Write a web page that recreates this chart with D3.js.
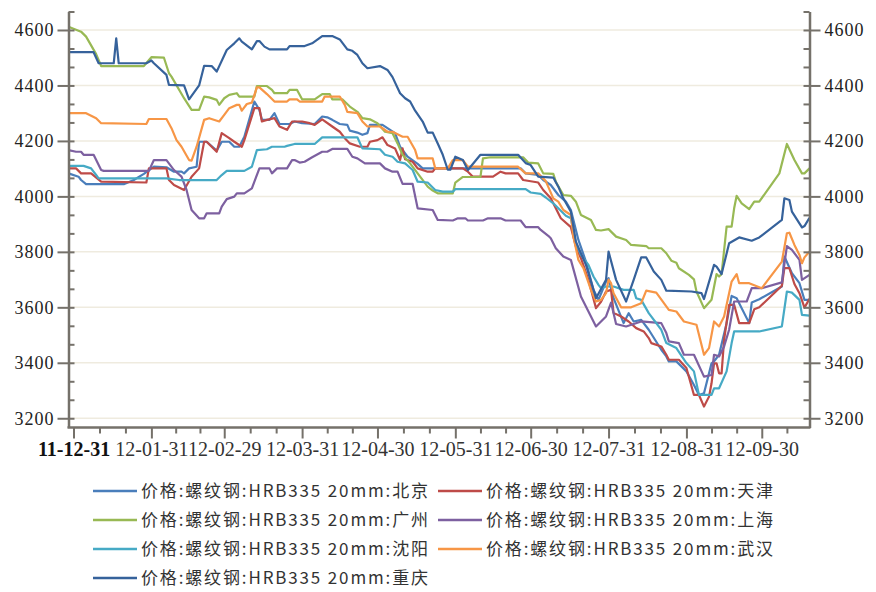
<!DOCTYPE html>
<html>
<head>
<meta charset="utf-8">
<script src="https://cdn.jsdelivr.net/npm/d3@7"></script>
<style>
  body { margin: 0; background: #fff; }
  svg { display: block; }
  .tick text { font-family: "Liberation Serif", "DejaVu Serif", serif; }
</style>
</head>
<body>
<div id="chart"></div>
<script>
// series names (legend order)
const names = [
  "价格:螺纹钢:HRB335 20mm:北京",
  "价格:螺纹钢:HRB335 20mm:天津",
  "价格:螺纹钢:HRB335 20mm:广州",
  "价格:螺纹钢:HRB335 20mm:上海",
  "价格:螺纹钢:HRB335 20mm:沈阳",
  "价格:螺纹钢:HRB335 20mm:武汉",
  "价格:螺纹钢:HRB335 20mm:重庆"
];

const majorTicks = ["2011-12-31", "2012-01-31", "2012-02-29", "2012-03-31", "2012-04-30",
  "2012-05-31", "2012-06-30", "2012-07-31", "2012-08-31", "2012-09-30"];
const yTicks = [3200, 3400, 3600, 3800, 4000, 4200, 4400, 4600];

const beijing = [["2011-12-29",4083],["2012-01-02",4071],["2012-01-03",4059],["2012-01-05",4044],["2012-01-20",4044],["2012-01-24",4059],["2012-01-28",4081],["2012-02-01",4107],["2012-02-06",4105],["2012-02-09",4089],["2012-02-12",4089],["2012-02-13",4083],["2012-02-15",4101],["2012-02-18",4107],["2012-02-19",4197],["2012-02-22",4197],["2012-02-26",4165],["2012-02-28",4197],["2012-03-02",4197],["2012-03-04",4179],["2012-03-06",4179],["2012-03-08",4215],["2012-03-12",4342],["2012-03-14",4312],["2012-03-15",4276],["2012-03-18",4276],["2012-03-20",4300],["2012-03-22",4261],["2012-03-26",4261],["2012-03-28",4270],["2012-03-31",4264],["2012-04-05",4261],["2012-04-08",4288],["2012-04-10",4285],["2012-04-12",4276],["2012-04-15",4261],["2012-04-18",4258],["2012-04-19",4237],["2012-04-22",4230],["2012-04-24",4222],["2012-04-26",4228],["2012-04-27",4258],["2012-05-02",4258],["2012-05-07",4228],["2012-05-09",4179],["2012-05-12",4143],["2012-05-16",4117],["2012-05-18",4101],["2012-06-26",4101],["2012-06-28",4083],["2012-07-03",4077],["2012-07-05",4059],["2012-07-08",4041],["2012-07-11",4005],["2012-07-14",3981],["2012-07-16",3951],["2012-07-19",3843],["2012-07-22",3765],["2012-07-25",3663],["2012-07-27",3627],["2012-07-30",3693],["2012-07-31",3705],["2012-08-02",3633],["2012-08-06",3543],["2012-08-08",3579],["2012-08-10",3549],["2012-08-13",3555],["2012-08-16",3519],["2012-08-21",3447],["2012-08-23",3423],["2012-08-24",3405],["2012-08-27",3405],["2012-08-31",3369],["2012-09-03",3320],["2012-09-05",3284],["2012-09-07",3290],["2012-09-10",3398],["2012-09-11",3405],["2012-09-13",3429],["2012-09-16",3543],["2012-09-18",3641],["2012-09-20",3633],["2012-09-25",3543],["2012-09-26",3617],["2012-09-29",3629],["2012-10-08",3675],["2012-10-09",3783],["2012-10-12",3723],["2012-10-15",3687],["2012-10-17",3627],["2012-10-19",3627]];

const tianjin = [["2011-12-29",4101],["2012-01-01",4101],["2012-01-03",4083],["2012-01-07",4083],["2012-01-11",4053],["2012-01-29",4050],["2012-01-30",4101],["2012-02-06",4101],["2012-02-07",4059],["2012-02-09",4041],["2012-02-13",4023],["2012-02-16",4071],["2012-02-19",4101],["2012-02-21",4197],["2012-02-22",4197],["2012-02-26",4161],["2012-02-28",4228],["2012-03-02",4210],["2012-03-04",4197],["2012-03-07",4179],["2012-03-08",4203],["2012-03-12",4318],["2012-03-14",4318],["2012-03-15",4270],["2012-03-17",4276],["2012-03-20",4282],["2012-03-22",4252],["2012-03-25",4240],["2012-03-27",4270],["2012-03-31",4270],["2012-04-03",4264],["2012-04-05",4258],["2012-04-08",4278],["2012-04-12",4252],["2012-04-15",4233],["2012-04-17",4210],["2012-04-19",4191],["2012-04-23",4179],["2012-04-26",4179],["2012-04-27",4197],["2012-04-30",4203],["2012-05-02",4213],["2012-05-04",4185],["2012-05-07",4173],["2012-05-09",4131],["2012-05-10",4173],["2012-05-11",4134],["2012-05-14",4125],["2012-05-16",4101],["2012-05-20",4089],["2012-05-22",4089],["2012-05-23",4101],["2012-06-03",4101],["2012-06-05",4089],["2012-06-07",4071],["2012-06-15",4071],["2012-06-18",4089],["2012-06-20",4083],["2012-06-25",4083],["2012-06-27",4059],["2012-07-03",4050],["2012-07-05",4023],["2012-07-08",3993],["2012-07-10",3957],["2012-07-12",3921],["2012-07-16",3889],["2012-07-18",3819],["2012-07-20",3777],["2012-07-23",3699],["2012-07-26",3597],["2012-07-28",3620],["2012-07-30",3657],["2012-08-01",3663],["2012-08-02",3580],["2012-08-05",3567],["2012-08-08",3549],["2012-08-11",3525],["2012-08-14",3513],["2012-08-16",3489],["2012-08-17",3471],["2012-08-21",3459],["2012-08-23",3429],["2012-08-24",3411],["2012-08-28",3411],["2012-08-31",3381],["2012-09-03",3284],["2012-09-05",3284],["2012-09-07",3242],["2012-09-09",3278],["2012-09-10",3326],["2012-09-11",3398],["2012-09-12",3398],["2012-09-13",3362],["2012-09-14",3362],["2012-09-15",3483],["2012-09-17",3609],["2012-09-19",3609],["2012-09-21",3543],["2012-09-25",3543],["2012-09-27",3593],["2012-09-29",3600],["2012-10-08",3678],["2012-10-09",3741],["2012-10-11",3741],["2012-10-13",3684],["2012-10-15",3651],["2012-10-17",3599],["2012-10-19",3631]];

const guangzhou = [["2011-12-29",4612],["2012-01-03",4594],["2012-01-05",4576],["2012-01-09",4513],["2012-01-11",4470],["2012-01-28",4470],["2012-01-31",4502],["2012-02-05",4500],["2012-02-07",4444],["2012-02-08",4432],["2012-02-13",4354],["2012-02-16",4312],["2012-02-19",4312],["2012-02-21",4360],["2012-02-23",4357],["2012-02-26",4348],["2012-02-27",4330],["2012-02-29",4354],["2012-03-02",4366],["2012-03-05",4372],["2012-03-06",4360],["2012-03-12",4360],["2012-03-13",4398],["2012-03-17",4398],["2012-03-19",4384],["2012-03-20",4372],["2012-03-25",4372],["2012-03-26",4384],["2012-03-29",4384],["2012-03-31",4350],["2012-04-05",4350],["2012-04-08",4369],["2012-04-11",4369],["2012-04-12",4350],["2012-04-16",4350],["2012-04-19",4324],["2012-04-22",4305],["2012-04-24",4282],["2012-04-27",4278],["2012-04-30",4264],["2012-05-03",4233],["2012-05-06",4228],["2012-05-08",4191],["2012-05-10",4150],["2012-05-13",4119],["2012-05-16",4083],["2012-05-20",4035],["2012-05-22",4021],["2012-05-24",4011],["2012-05-30",4011],["2012-05-31",4050],["2012-06-03",4070],["2012-06-10",4070],["2012-06-11",4137],["2012-06-14",4141],["2012-06-27",4141],["2012-06-29",4122],["2012-07-03",4119],["2012-07-05",4083],["2012-07-09",4081],["2012-07-10",4053],["2012-07-13",4005],["2012-07-16",4002],["2012-07-18",3981],["2012-07-20",3933],["2012-07-24",3915],["2012-07-26",3879],["2012-07-28",3877],["2012-07-31",3882],["2012-08-03",3855],["2012-08-07",3843],["2012-08-09",3825],["2012-08-15",3821],["2012-08-16",3813],["2012-08-21",3813],["2012-08-23",3795],["2012-08-25",3768],["2012-08-27",3761],["2012-08-28",3741],["2012-09-01",3717],["2012-09-03",3701],["2012-09-04",3657],["2012-09-07",3597],["2012-09-10",3627],["2012-09-12",3720],["2012-09-13",3711],["2012-09-14",3720],["2012-09-16",3891],["2012-09-18",3891],["2012-09-19",3957],["2012-09-20",4002],["2012-09-22",3975],["2012-09-25",3954],["2012-09-27",3981],["2012-09-29",3981],["2012-10-07",4083],["2012-10-10",4189],["2012-10-13",4131],["2012-10-16",4083],["2012-10-17",4083],["2012-10-19",4101]];

const shanghai = [["2011-12-29",4167],["2012-01-01",4161],["2012-01-03",4161],["2012-01-04",4150],["2012-01-08",4150],["2012-01-11",4095],["2012-01-12",4092],["2012-01-30",4092],["2012-02-01",4131],["2012-02-06",4131],["2012-02-09",4095],["2012-02-12",4071],["2012-02-14",4023],["2012-02-16",3951],["2012-02-19",3921],["2012-02-21",3921],["2012-02-22",3939],["2012-02-27",3939],["2012-02-28",3963],["2012-03-01",3990],["2012-03-04",3999],["2012-03-05",4011],["2012-03-08",4011],["2012-03-11",4029],["2012-03-14",4101],["2012-03-18",4101],["2012-03-19",4083],["2012-03-21",4101],["2012-03-25",4101],["2012-03-27",4131],["2012-03-28",4131],["2012-03-30",4122],["2012-04-01",4125],["2012-04-04",4141],["2012-04-08",4161],["2012-04-10",4161],["2012-04-12",4171],["2012-04-18",4171],["2012-04-20",4143],["2012-04-22",4137],["2012-04-25",4119],["2012-05-01",4119],["2012-05-03",4101],["2012-05-06",4089],["2012-05-08",4089],["2012-05-10",4045],["2012-05-14",4045],["2012-05-16",3957],["2012-05-22",3951],["2012-05-24",3915],["2012-05-30",3913],["2012-06-01",3921],["2012-06-04",3921],["2012-06-05",3913],["2012-06-11",3913],["2012-06-13",3921],["2012-06-18",3921],["2012-06-20",3913],["2012-06-26",3913],["2012-06-28",3889],["2012-07-03",3889],["2012-07-04",3879],["2012-07-07",3858],["2012-07-08",3849],["2012-07-10",3813],["2012-07-13",3783],["2012-07-16",3771],["2012-07-20",3639],["2012-07-21",3621],["2012-07-24",3567],["2012-07-26",3531],["2012-07-30",3567],["2012-08-01",3617],["2012-08-03",3540],["2012-08-07",3531],["2012-08-13",3549],["2012-08-21",3543],["2012-08-23",3507],["2012-08-24",3477],["2012-08-28",3471],["2012-08-30",3429],["2012-09-03",3429],["2012-09-07",3350],["2012-09-10",3356],["2012-09-11",3429],["2012-09-13",3423],["2012-09-15",3459],["2012-09-17",3519],["2012-09-19",3621],["2012-09-24",3621],["2012-09-26",3669],["2012-09-30",3669],["2012-10-08",3690],["2012-10-10",3821],["2012-10-12",3807],["2012-10-15",3771],["2012-10-16",3699],["2012-10-19",3717]];

const shenyang = [["2011-12-29",4110],["2012-01-04",4110],["2012-01-07",4101],["2012-01-09",4077],["2012-01-10",4065],["2012-02-06",4065],["2012-02-11",4059],["2012-02-26",4059],["2012-02-28",4077],["2012-03-01",4092],["2012-03-08",4092],["2012-03-11",4107],["2012-03-13",4167],["2012-03-17",4170],["2012-03-19",4179],["2012-03-24",4179],["2012-03-25",4182],["2012-03-28",4189],["2012-04-05",4189],["2012-04-08",4213],["2012-04-22",4213],["2012-04-24",4173],["2012-05-01",4170],["2012-05-03",4150],["2012-05-06",4143],["2012-05-08",4125],["2012-05-11",4119],["2012-05-14",4095],["2012-05-16",4053],["2012-05-20",4050],["2012-05-23",4023],["2012-05-26",4017],["2012-05-30",4017],["2012-05-31",4026],["2012-06-28",4026],["2012-06-30",4014],["2012-07-04",4009],["2012-07-06",3996],["2012-07-09",3975],["2012-07-11",3957],["2012-07-14",3930],["2012-07-16",3921],["2012-07-18",3831],["2012-07-20",3789],["2012-07-23",3753],["2012-07-25",3711],["2012-07-27",3681],["2012-07-28",3669],["2012-07-30",3675],["2012-08-02",3675],["2012-08-06",3663],["2012-08-10",3663],["2012-08-11",3633],["2012-08-13",3627],["2012-08-16",3579],["2012-08-21",3519],["2012-08-23",3471],["2012-08-27",3453],["2012-08-31",3399],["2012-09-03",3369],["2012-09-05",3284],["2012-09-10",3284],["2012-09-11",3308],["2012-09-13",3308],["2012-09-16",3369],["2012-09-18",3471],["2012-09-19",3513],["2012-09-29",3513],["2012-10-08",3531],["2012-10-10",3657],["2012-10-12",3653],["2012-10-15",3627],["2012-10-16",3573],["2012-10-19",3570]];

const wuhan = [["2011-12-29",4300],["2012-01-05",4300],["2012-01-09",4282],["2012-01-11",4264],["2012-01-29",4261],["2012-01-30",4279],["2012-02-06",4279],["2012-02-08",4246],["2012-02-10",4203],["2012-02-12",4179],["2012-02-15",4131],["2012-02-16",4129],["2012-02-18",4179],["2012-02-21",4276],["2012-02-23",4282],["2012-02-27",4270],["2012-02-29",4294],["2012-03-02",4318],["2012-03-05",4330],["2012-03-06",4330],["2012-03-07",4309],["2012-03-09",4333],["2012-03-11",4338],["2012-03-13",4393],["2012-03-14",4393],["2012-03-17",4369],["2012-03-20",4342],["2012-03-25",4342],["2012-03-26",4350],["2012-03-29",4350],["2012-03-30",4342],["2012-04-08",4342],["2012-04-09",4360],["2012-04-15",4360],["2012-04-17",4330],["2012-04-18",4305],["2012-04-22",4300],["2012-04-24",4270],["2012-04-26",4252],["2012-05-01",4252],["2012-05-04",4233],["2012-05-06",4233],["2012-05-10",4215],["2012-05-12",4215],["2012-05-15",4167],["2012-05-16",4137],["2012-05-22",4137],["2012-05-23",4101],["2012-05-28",4101],["2012-05-30",4131],["2012-06-03",4131],["2012-06-05",4107],["2012-06-25",4107],["2012-06-28",4083],["2012-07-03",4083],["2012-07-06",4055],["2012-07-09",3993],["2012-07-11",3981],["2012-07-13",3951],["2012-07-16",3933],["2012-07-17",3855],["2012-07-19",3771],["2012-07-21",3741],["2012-07-24",3663],["2012-07-26",3621],["2012-07-28",3627],["2012-07-30",3651],["2012-07-31",3700],["2012-08-01",3687],["2012-08-02",3651],["2012-08-05",3600],["2012-08-09",3600],["2012-08-13",3615],["2012-08-15",3660],["2012-08-19",3653],["2012-08-24",3591],["2012-08-27",3585],["2012-08-30",3549],["2012-09-04",3537],["2012-09-07",3429],["2012-09-09",3453],["2012-09-11",3549],["2012-09-13",3531],["2012-09-15",3567],["2012-09-18",3693],["2012-09-20",3720],["2012-09-21",3687],["2012-09-25",3687],["2012-09-30",3669],["2012-10-08",3765],["2012-10-10",3867],["2012-10-11",3869],["2012-10-13",3825],["2012-10-15",3789],["2012-10-16",3759],["2012-10-17",3780],["2012-10-19",3801]];

const chongqing = [["2011-12-29",4520],["2012-01-08",4520],["2012-01-10",4480],["2012-01-16",4480],["2012-01-17",4570],["2012-01-18",4480],["2012-01-29",4480],["2012-01-31",4490],["2012-02-01",4480],["2012-02-06",4438],["2012-02-07",4402],["2012-02-13",4400],["2012-02-15",4350],["2012-02-19",4400],["2012-02-21",4471],["2012-02-24",4470],["2012-02-26",4450],["2012-03-01",4528],["2012-03-04",4552],["2012-03-06",4570],["2012-03-07",4558],["2012-03-11",4530],["2012-03-13",4560],["2012-03-14",4560],["2012-03-16",4540],["2012-03-18",4530],["2012-03-25",4530],["2012-03-26",4542],["2012-04-01",4542],["2012-04-04",4552],["2012-04-08",4578],["2012-04-12",4578],["2012-04-15",4566],["2012-04-18",4530],["2012-04-20",4525],["2012-04-22",4510],["2012-04-24",4480],["2012-04-26",4462],["2012-05-01",4470],["2012-05-04",4456],["2012-05-06",4430],["2012-05-09",4372],["2012-05-11",4354],["2012-05-13",4342],["2012-05-15",4309],["2012-05-18",4270],["2012-05-20",4230],["2012-05-22",4230],["2012-05-24",4191],["2012-05-26",4150],["2012-05-28",4096],["2012-05-29",4096],["2012-05-31",4143],["2012-06-03",4131],["2012-06-05",4095],["2012-06-10",4150],["2012-06-25",4150],["2012-06-28",4120],["2012-06-30",4113],["2012-07-03",4071],["2012-07-09",4068],["2012-07-11",4035],["2012-07-13",3993],["2012-07-16",3945],["2012-07-18",3837],["2012-07-22",3753],["2012-07-26",3633],["2012-07-30",3699],["2012-07-31",3801],["2012-08-03",3699],["2012-08-07",3621],["2012-08-10",3699],["2012-08-13",3780],["2012-08-15",3780],["2012-08-18",3729],["2012-08-21",3699],["2012-08-23",3660],["2012-09-02",3657],["2012-09-06",3651],["2012-09-07",3630],["2012-09-11",3753],["2012-09-12",3747],["2012-09-14",3720],["2012-09-17",3831],["2012-09-21",3852],["2012-09-26",3840],["2012-09-29",3852],["2012-10-08",3915],["2012-10-09",3993],["2012-10-11",3987],["2012-10-12",3945],["2012-10-16",3888],["2012-10-17",3893],["2012-10-19",3923]];

const seriesValues = [beijing, tianjin, guangzhou, shanghai, shenyang, wuhan, chongqing];
const colors = ["#4a7ebb", "#be4b48", "#98b954", "#7d60a0", "#46aac5", "#f79646", "#36629b"];

const width = 876;
const height = 592;
const plot = { left: 68.5, right: 809.5, top: 11.5, bottom: 427.5 };
const axisColor = "#75716a";
const tickFont = "Liberation Serif, DejaVu Serif, serif";

const parse = d3.timeParse("%Y-%m-%d");

const svg = d3.select("#chart").append("svg")
  .attr("width", width)
  .attr("height", height)
  .style("background", "#fff");

const x = d3.scaleTime()
  .domain([parse("2011-12-29"), parse("2012-10-19")])
  .range([plot.left, plot.right]);

const y = d3.scaleLinear()
  .domain([3200 - 200 / 6, 4600 + 200 / 3])
  .range([plot.bottom, plot.top]);

// gridlines
svg.append("g")
  .selectAll("line")
  .data(yTicks)
  .join("line")
  .attr("x1", plot.left + 1)
  .attr("x2", plot.right - 1)
  .attr("y1", (d) => y(d))
  .attr("y2", (d) => y(d))
  .attr("stroke", "#efebdf")
  .attr("stroke-width", 1.5);

// series lines
const line = d3.line()
  .x((d) => x(parse(d[0])))
  .y((d) => y(d[1]));

svg.append("g")
  .selectAll("path")
  .data(seriesValues)
  .join("path")
  .attr("d", line)
  .attr("fill", "none")
  .attr("stroke", (d, i) => colors[i])
  .attr("stroke-width", 2.2)
  .attr("stroke-linejoin", "round");

// minor y ticks every 200/3
const minorY = d3.range(0, 23).map((k) => 3200 + (k * 200) / 3);

function styleAxis(g) {
  g.attr("font-family", tickFont);
  g.select(".domain").attr("stroke", axisColor).attr("stroke-width", 2.5);
  g.selectAll(".tick line").attr("stroke", axisColor).attr("stroke-width", 2);
  g.selectAll(".tick text").attr("fill", "#222").attr("font-family", tickFont);
}

// left axis
svg.append("g")
  .attr("transform", `translate(${plot.left},0)`)
  .call(d3.axisRight(y).tickValues(minorY).tickSize(6).tickSizeOuter(0).tickFormat(""))
  .call(styleAxis);
svg.append("g")
  .attr("transform", `translate(${plot.left},0)`)
  .call(d3.axisLeft(y).tickValues(yTicks).tickSize(11).tickSizeOuter(0).tickPadding(3).tickFormat(d3.format("d")))
  .call(styleAxis)
  .call((g) => g.select(".domain").remove())
  .selectAll(".tick text")
  .attr("font-size", 18)
  .attr("letter-spacing", 1);

// right axis
svg.append("g")
  .attr("transform", `translate(${plot.right},0)`)
  .call(d3.axisLeft(y).tickValues(minorY).tickSize(6).tickSizeOuter(0).tickFormat(""))
  .call(styleAxis);
svg.append("g")
  .attr("transform", `translate(${plot.right},0)`)
  .call(d3.axisRight(y).tickValues(yTicks).tickSize(11).tickSizeOuter(0).tickPadding(4).tickFormat(d3.format("d")))
  .call(styleAxis)
  .call((g) => g.select(".domain").remove())
  .selectAll(".tick text")
  .attr("font-size", 18)
  .attr("letter-spacing", 1);

// x axis
const majorDates = majorTicks.map(parse);
const minorDates = [];
majorDates.forEach((d, i) => {
  const next = majorDates[i + 1] || d3.timeDay.offset(d, 30);
  const step = (next - d) / 3;
  minorDates.push(new Date(+d + step), new Date(+d + 2 * step));
});

svg.append("g")
  .attr("transform", `translate(0,${plot.bottom})`)
  .call(d3.axisBottom(x).tickValues(minorDates.filter((d) => x(d) < plot.right)).tickSize(6).tickSizeOuter(0).tickFormat(""))
  .call(styleAxis)
  .call((g) => g.select(".domain").attr("d", `M${plot.left - 1},0H${plot.right + 1}`));

const xAxisG = svg.append("g")
  .attr("transform", `translate(0,${plot.bottom})`)
  .call(d3.axisBottom(x).tickValues(majorDates).tickSize(11).tickSizeOuter(0).tickPadding(3).tickFormat(d3.timeFormat("%y-%m-%d")))
  .call(styleAxis)
  .call((g) => g.select(".domain").remove());
xAxisG.selectAll(".tick text")
  .attr("font-size", 20)
  .attr("fill", "#333");
xAxisG.select(".tick text")
  .attr("font-weight", "bold")
  .attr("fill", "#111");

// legend
const legend = svg.append("g")
  .style("font-family", "'Noto Sans CJK SC', sans-serif")
  .style("font-size", "17px");

names.forEach((name, i) => {
  const col = i % 2;
  const row = Math.floor(i / 2);
  const gx = col === 0 ? 93 : 438;
  const gy = 491 + row * 29;
  const item = legend.append("g").attr("transform", `translate(${gx},${gy})`);
  item.append("line")
    .attr("x1", 0)
    .attr("x2", 44)
    .attr("stroke", colors[i])
    .attr("stroke-width", 2.5);
  item.append("text")
    .attr("x", 48)
    .attr("dy", "0.35em")
    .attr("fill", "#333")
    .attr("textLength", 287)
    .attr("lengthAdjust", "spacing")
    .text(name);
});
</script>
</body>
</html>
